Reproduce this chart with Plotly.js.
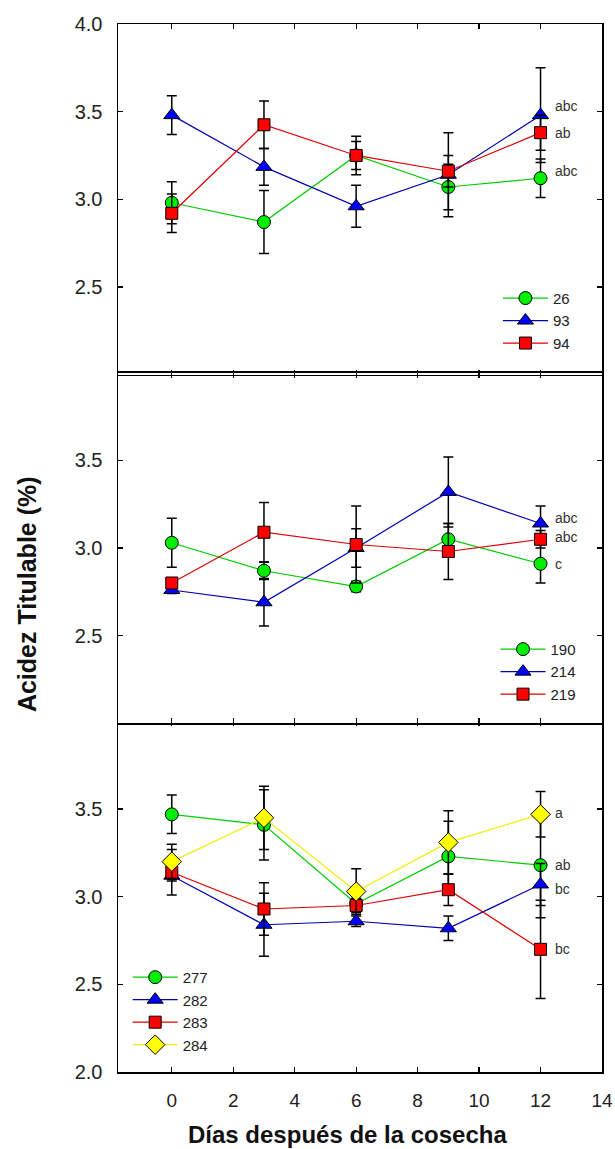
<!DOCTYPE html>
<html>
<head>
<meta charset="utf-8">
<script src="https://cdn.plot.ly/plotly-3.0.1.min.js"></script>
<style>html,body{margin:0;padding:0;background:#fff;}#chart{width:615px;height:1149px;}</style>
</head>
<body>
<div id="chart"></div>
<script>
// ---- data ----
const days = [0, 3, 6, 9, 12];

// top panel
const s26 = [2.98, 2.87, 3.25, 3.07, 3.12];
const e26 = [0.12, 0.18, 0.08, 0.13, 0.11];
const s93 = [3.48, 3.185, 2.96, 3.14, 3.48];
const e93 = [0.11, 0.105, 0.12, 0.24, 0.27];
const s94 = [2.92, 3.425, 3.25, 3.16, 3.38];
const e94 = [0.11, 0.135, 0.11, 0.09, 0.10];

// middle panel
const s190 = [3.03, 2.87, 2.78, 3.05, 2.91];
const e190 = [0.14, 0.05, 0.03, 0.09, 0.11];
const s214 = [2.76, 2.69, 3.00, 3.32, 3.14];
const e214 = [0.02, 0.135, 0.11, 0.20, 0.10];
const s219 = [2.80, 3.09, 3.02, 2.98, 3.05];
const e219 = [0.02, 0.17, 0.22, 0.16, 0.05];

// bottom panel
const s277 = [3.47, 3.41, 2.96, 3.23, 3.18];
const e277 = [0.11, 0.20, 0.03, 0.20, 0.30];
const s282 = [3.12, 2.84, 2.86, 2.82, 3.07];
const e282 = [0.03, 0.18, 0.03, 0.07, 0.12];
const s283 = [3.14, 2.93, 2.95, 3.04, 2.70];
const e283 = [0.13, 0.15, 0.04, 0.09, 0.28];
const s284 = [3.20, 3.45, 3.03, 3.31, 3.47];
const e284 = [0.10, 0.18, 0.13, 0.18, 0.13];

// significance letters (placed next to day 12)
const topLetters = ['abc', 'ab', 'abc'];
const topLetterY = [3.53, 3.38, 3.16];
const midLetters = ['abc', 'abc', 'c'];
const midLetterY = [3.17, 3.065, 2.91];
const botLetters = ['a', 'ab', 'bc', 'bc'];
const botLetterY = [3.477, 3.18, 3.046, 2.70];

const xTicks = [0, 2, 4, 6, 8, 10, 12, 14];
const yTicks = [2.0, 2.5, 3.0, 3.5, 4.0];
const xTitle = 'Días después de la cosecha';
const yTitle = 'Acidez Titulable (%)';

// ---- styles ----
const FONT = 'Arial, "Liberation Sans", sans-serif';
const styles = {
  green:  {line: '#00cc00', fill: '#00ee00', symbol: 'circle', size: 13},
  blue:   {line: '#0000b0', fill: '#0000ff', symbol: 'triangle-up', size: 14},
  red:    {line: '#dd0000', fill: '#ff0000', symbol: 'square', size: 12},
  yellow: {line: '#f0f000', fill: '#ffff00', symbol: 'diamond', size: 15}
};

function tr(name, y, err, st, xa, ya, legend) {
  return {
    type: 'scatter', mode: 'lines+markers', name: name,
    x: days, y: y, xaxis: xa, yaxis: ya, legend: legend,
    line: {color: st.line, width: 1.2},
    marker: {symbol: st.symbol, size: st.size, color: st.fill, line: {color: '#000', width: 1}},
    error_y: {type: 'data', array: err, visible: true, color: '#000', thickness: 1.5, width: 5},
    cliponaxis: false
  };
}

const data = [
  tr('26', s26, e26, styles.green, 'x3', 'y3', 'legend'),
  tr('93', s93, e93, styles.blue, 'x3', 'y3', 'legend'),
  tr('94', s94, e94, styles.red, 'x3', 'y3', 'legend'),
  tr('190', s190, e190, styles.green, 'x2', 'y2', 'legend2'),
  tr('214', s214, e214, styles.blue, 'x2', 'y2', 'legend2'),
  tr('219', s219, e219, styles.red, 'x2', 'y2', 'legend2'),
  tr('277', s277, e277, styles.green, 'x', 'y', 'legend3'),
  tr('282', s282, e282, styles.blue, 'x', 'y', 'legend3'),
  tr('283', s283, e283, styles.red, 'x', 'y', 'legend3'),
  tr('284', s284, e284, styles.yellow, 'x', 'y', 'legend3')
];

function xax(anchor, showLabels) {
  return {
    anchor: anchor, domain: [0, 1], range: [-1.75, 14],
    tickmode: 'array', tickvals: xTicks, ticktext: xTicks.map(String),
    showticklabels: showLabels,
    ticks: 'inside', ticklen: 5, tickwidth: 1.2, tickcolor: '#000',
    showline: true, linecolor: '#000', linewidth: 1.5, mirror: 'ticks',
    showgrid: false, zeroline: false,
    tickfont: {family: FONT, size: 19, color: '#222'},
    ticklabelstandoff: 11
  };
}
function yax(anchor, domain, labels) {
  return {
    anchor: anchor, domain: domain, range: [2, 4],
    tickmode: 'array', tickvals: yTicks, ticktext: labels,
    ticks: 'inside', ticklen: 5, tickwidth: 1.2, tickcolor: '#000',
    showline: true, linecolor: '#000', linewidth: 1.5, mirror: 'ticks',
    showgrid: false, zeroline: false,
    tickfont: {family: FONT, size: 20, color: '#222'},
    ticklabelstandoff: 10
  };
}

function letters(txts, ys, xa, ya) {
  return txts.map((t, i) => ({
    text: t, x: 12.42, y: ys[i], xref: xa, yref: ya,
    xanchor: 'left', yanchor: 'middle', showarrow: false,
    font: {family: FONT, size: 14, color: '#333'}
  }));
}

const legendBase = {
  bgcolor: 'rgba(255,255,255,0)', borderwidth: 0,
  font: {family: FONT, size: 15, color: '#222'},
  xref: 'paper', yref: 'paper', xanchor: 'left', yanchor: 'top',
  tracegroupgap: 0, itemclick: false, itemwidth: 45
};

const layout = {
  width: 615, height: 1149,
  margin: {l: 118, r: 13, t: 24, b: 77},
  paper_bgcolor: '#fff', plot_bgcolor: '#fff',
  showlegend: true,
  xaxis: xax('y', true),
  xaxis2: xax('y2', false),
  xaxis3: xax('y3', false),
  yaxis: yax('x', [0, 0.3345], ['2.0', '2.5', '3.0', '3.5', '']),
  yaxis2: yax('x2', [0.333, 0.667], ['', '2.5', '3.0', '3.5', '']),
  yaxis3: yax('x3', [0.6655, 1], ['', '2.5', '3.0', '3.5', '4.0']),
  legend: Object.assign({}, legendBase, {x: 0.785, y: 0.754}),
  legend2: Object.assign({}, legendBase, {x: 0.78, y: 0.419}),
  legend3: Object.assign({}, legendBase, {x: 0.02, y: 0.106}),
  annotations: [].concat(
    letters(topLetters, topLetterY, 'x3', 'y3'),
    letters(midLetters, midLetterY, 'x2', 'y2'),
    letters(botLetters, botLetterY, 'x', 'y'),
    [
      {text: '<b>' + yTitle + '</b>', xref: 'paper', yref: 'paper', x: -0.188, y: 0.456,
       textangle: -90, showarrow: false, xanchor: 'center', yanchor: 'middle',
       font: {family: FONT, size: 25, color: '#111'}},
      {text: '<b>' + xTitle + '</b>', xref: 'paper', yref: 'paper', x: 0.475, y: -0.06,
       showarrow: false, xanchor: 'center', yanchor: 'middle',
       font: {family: FONT, size: 24, color: '#111'}}
    ]
  )
};

Plotly.newPlot('chart', data, layout, {displayModeBar: false, staticPlot: true});
</script>
</body>
</html>
